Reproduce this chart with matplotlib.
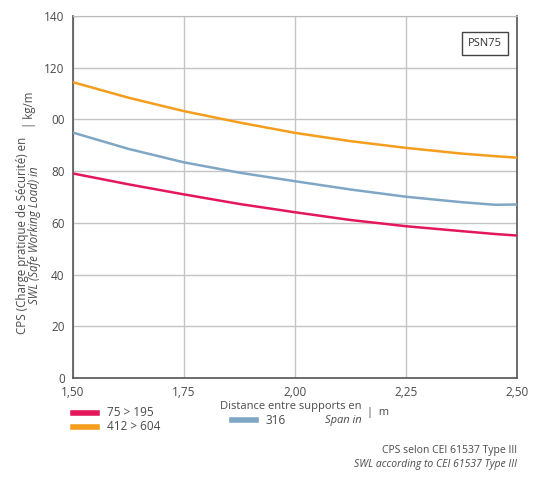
import matplotlib.pyplot as plt

# === Data (span in m, SWL in kg/m)
span = [1.50, 1.625, 1.75, 1.875, 2.00, 2.125, 2.25, 2.375, 2.45, 2.50]
load_75_195 = [79.1, 74.9, 71.0, 67.3, 64.1, 61.1, 58.7, 56.8, 55.7, 55.1]
load_412_604 = [114.4, 108.4, 103.2, 98.8, 94.8, 91.6, 89.0, 86.8, 85.8, 85.2]
load_316 = [94.9, 88.6, 83.4, 79.4, 76.1, 72.9, 70.1, 68.0, 67.0, 67.1]

x_ticks = [1.50, 1.75, 2.00, 2.25, 2.50]
x_labels = ["1,50", "1,75", "2,00", "2,25", "2,50"]
y_ticks = [0, 20, 40, 60, 80, 100, 120, 140]
y_labels = ["0", "20", "40", "60", "80", "00", "120", "140"]

RED = "#e3175a"
ORANGE = "#f59d1c"
BLUE = "#7ea7c6"
TXT = "#4a4a4a"

plt.rcParams["font.family"] = ["Open Sans", "DejaVu Sans"]

fig = plt.figure(figsize=(5.38, 4.78), dpi=100)
ax = fig.add_axes([73 / 538, 100 / 478, 444 / 538, 362 / 478])

ax.plot(span, load_412_604, color=ORANGE, lw=1.8, zorder=3)
ax.plot(span, load_316, color=BLUE, lw=1.8, zorder=3)
ax.plot(span, load_75_195, color=RED, lw=1.8, zorder=3)

ax.set_xlim(1.50, 2.50)
ax.set_ylim(0, 140)
ax.set_xticks(x_ticks)
ax.set_xticklabels(x_labels)
ax.set_yticks(y_ticks)
ax.set_yticklabels(y_labels)
ax.tick_params(length=0, labelsize=8.5, colors=TXT, pad=6)
ax.grid(True, color="#c4c4c4", lw=1)
ax.set_axisbelow(True)
for side in ["left", "bottom", "right"]:
    ax.spines[side].set_color("#555555")
    ax.spines[side].set_linewidth(1.2)
ax.spines["top"].set_color("#bbbbbb")

# === Box label
ax.text(0.967, 0.925, "PSN75", transform=ax.transAxes, ha="right", va="center",
        fontsize=8, color="#333333",
        bbox=dict(boxstyle="square,pad=0.55", fc="white", ec="#444444", lw=1))

# === Y axis label
fig.text(23 / 538, 1 - 235 / 478, "CPS (Charge pratique de Sécurité) en",
         rotation=90, ha="center", va="center", fontsize=8.3, color=TXT)
fig.text(35 / 538, 1 - 235 / 478, "SWL (Safe Working Load) in", style="italic",
         rotation=90, ha="center", va="center", fontsize=8.3, color=TXT)
fig.text(29 / 538, 1 - 110 / 478, "| kg/m", rotation=90, ha="center",
         va="center", fontsize=8.3, color=TXT)

# === X axis label
fig.text(362 / 538, 1 - 407 / 478, "Distance entre supports en", ha="right",
         va="center", fontsize=8, color=TXT)
fig.text(362 / 538, 1 - 421 / 478, "Span in", style="italic", ha="right",
         va="center", fontsize=8, color=TXT)
fig.text(367 / 538, 1 - 413 / 478, "|  m", ha="left", va="center",
         fontsize=8, color=TXT)

# === Legend
legend = [(73, 413, RED, "75 > 195"), (73, 427, ORANGE, "412 > 604"),
          (232, 420, BLUE, "316")]
for x0, y0, col, lab in legend:
    fig.add_artist(plt.Line2D([x0 / 538, (x0 + 24) / 538], [1 - y0 / 478] * 2,
                              color=col, lw=4))
    fig.text((x0 + 34) / 538, 1 - y0 / 478, lab, ha="left", va="center",
             fontsize=8.5, color=TXT)

# === Footnote
fig.text(517 / 538, 1 - 450 / 478, "CPS selon CEI 61537 Type III", ha="right",
         va="center", fontsize=7.5, color=TXT)
fig.text(517 / 538, 1 - 464 / 478, "SWL according to CEI 61537 Type III",
         style="italic", ha="right", va="center", fontsize=7.5, color=TXT)

fig.savefig("out.png", dpi=100)
